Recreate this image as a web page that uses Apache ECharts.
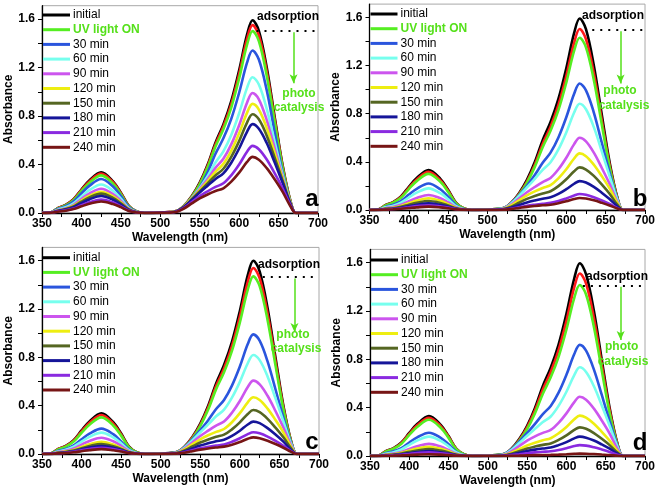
<!DOCTYPE html>
<html>
<head>
<meta charset="utf-8">
<script src="https://cdn.jsdelivr.net/npm/echarts@6/dist/echarts.min.js"></script>
<style>html,body{margin:0;padding:0;background:#fff;}#c{width:661px;height:493px;}</style>
</head>
<body>
<div id="c"></div>
<script>
// Wavelength grid (nm)
const wavelength = [350,360,365,370,380,390,400,410,425,440,450,460,470,480,500,520,530,540,550,560,570,580,590,600,610,617,625,635,645,655,665,672,680,700];

const seriesNames = ['initial','adsorption','UV light ON','30 min','60 min','90 min','120 min','150 min','180 min','210 min','240 min'];
const legendNames = ['initial','UV light ON','30 min','60 min','90 min','120 min','150 min','180 min','210 min','240 min'];
const panelLetters = ['a','b','c','d'];
const xLabelValues = [350,400,450,500,550,600,650,700];
const yLabelValues = [0,0.4,0.8,1.2,1.6];

// ---------- Panel a ----------
const aInitial = [0,.003,.017,.04,.067,.114,.194,.268,.335,.261,.168,.06,.013,0, .005, .016,.06,.14,.25,.398,.58,.731,.922,1.177,1.471,1.59,1.503,1.2,.795,.398,.1,0, 0,0];
const aAdsorption = [0,.003,.016,.039,.065,.111,.189,.26,.325,.254,.163,.059,.013,0, .005, .016,.059,.136,.243,.388,.566,.713,.899,1.147,1.434,1.55,1.465,1.17,.775,.388,.098,0, 0,0];
const aUV = [0,.003,.016,.037,.062,.105,.18,.248,.31,.242,.155,.056,.012,0, .005, .015,.057,.132,.236,.375,.548,.69,.87,1.11,1.388,1.5,1.418,1.133,.75,.375,.095,0, 0,0];
const a30 = [0,.003,.014,.034,.056,.095,.162,.224,.28,.218,.14,.05,.011,0, .003, .013,.051,.118,.21,.335,.489,.616,.777,.992,1.24,1.34,1.266,1.012,.67,.335,.084,0, 0,0];
const a60 = [0,.002,.012,.028,.047,.08,.136,.188,.235,.183,.118,.042,.009,0, .003, .014,.055,.123,.206,.304,.416,.509,.644,.823,1.032,1.12,1.06,.859,.59,.319,.087,0, 0,0];
const a90 = [0,.002,.01,.024,.04,.068,.116,.16,.2,.156,.1,.036,.008,0, .003, .014,.055,.121,.198,.28,.372,.447,.566,.724,.91,.99,.938,.766,.536,.301,.086,0, 0,0];
const a120 = [0,.002,.009,.021,.035,.06,.102,.14,.175,.137,.088,.032,.007,0, .002, .014,.054,.117,.189,.262,.34,.405,.513,.657,.826,.9,.853,.7,.496,.285,.083,0, 0,0];
const a150 = [0,.002,.008,.019,.032,.054,.093,.128,.16,.125,.08,.029,.006,0, .002, .013,.052,.113,.179,.244,.31,.365,.463,.593,.746,.815,.773,.638,.457,.269,.08,0, 0,0];
const a180 = [0,.001,.007,.017,.028,.048,.081,.112,.14,.109,.07,.025,.006,0, .002, .013,.05,.107,.168,.225,.281,.327,.415,.532,.67,.733,.695,.577,.418,.251,.076,0, 0,0];
const a210 = [0,.001,.006,.013,.022,.037,.064,.088,.11,.086,.055,.02,.004,0, .001, .011,.042,.09,.139,.179,.215,.245,.311,.4,.505,.554,.526,.441,.328,.204,.064,0, 0,0];
const a240 = [0,.001,.005,.011,.019,.032,.055,.076,.095,.074,.048,.017,.004,0, .001, .009,.037,.079,.12,.153,.181,.204,.259,.333,.421,.463,.44,.37,.278,.176,.056,0, 0,0];

// ---------- Panel b ----------
const bInitial = [0,.003,.017,.04,.066,.113,.193,.266,.332,.259,.166,.06,.013,0, .005, .016,.06,.14,.25,.398,.58,.731,.922,1.177,1.471,1.59,1.503,1.2,.795,.398,.1,0, 0,0];
const bAdsorption = [0,.003,.016,.038,.064,.108,.184,.254,.318,.248,.159,.057,.013,0, .005, .015,.057,.132,.236,.376,.549,.691,.872,1.112,1.39,1.503,1.42,1.135,.752,.376,.095,0, 0,0];
const bUV = [0,.003,.015,.036,.06,.102,.174,.24,.3,.234,.15,.054,.012,0, .005, .014,.054,.126,.225,.358,.522,.658,.829,1.058,1.323,1.43,1.351,1.08,.715,.358,.09,0, 0,0];
const b30 = [0,.002,.011,.026,.044,.075,.128,.176,.22,.172,.11,.04,.009,0, .003, .014,.055,.122,.202,.291,.392,.476,.602,.77,.966,1.05,.994,.809,.561,.31,.087,0, 0,0];
const b60 = [0,.002,.009,.022,.036,.061,.104,.144,.18,.14,.09,.032,.007,0, .003, .014,.053,.117,.187,.259,.334,.397,.503,.644,.81,.883,.837,.688,.489,.282,.083,0, 0,0];
const b90 = [0,.001,.006,.015,.025,.043,.073,.1,.125,.098,.063,.023,.005,0, .002, .011,.044,.095,.147,.191,.232,.266,.338,.434,.547,.6,.57,.476,.351,.217,.067,0, 0,0];
const b120 = [0,.001,.005,.012,.019,.033,.056,.078,.097,.076,.049,.017,.004,0, .001, .009,.038,.08,.122,.155,.183,.207,.263,.338,.428,.47,.447,.376,.282,.179,.056,0, 0,0];
const b150 = [0,.001,.004,.009,.015,.026,.044,.06,.075,.059,.038,.014,.003,0, .001, .007,.028,.06,.092,.117,.138,.156,.198,.255,.322,.354,.336,.283,.212,.135,.042,0, 0,0];
const b180 = [0,.001,.003,.007,.011,.019,.032,.044,.055,.043,.028,.01,.002,0, 0, .005,.019,.041,.062,.079,.094,.106,.134,.173,.218,.24,.228,.192,.144,.091,.029,0, 0,0];
const b210 = [0,0,.002,.005,.008,.014,.023,.032,.04,.031,.02,.007,.002,0, 0, .003,.011,.023,.035,.044,.052,.059,.074,.096,.121,.133,.126,.106,.08,.051,.016,0, 0,0];
const b240 = [0,0,.001,.003,.006,.01,.016,.022,.028,.022,.014,.005,.001,0, 0, .002,.008,.017,.026,.033,.039,.044,.056,.072,.091,.1,.095,.08,.06,.038,.012,0, 0,0];

// ---------- Panel c ----------
const cInitial = [0,.003,.017,.04,.067,.115,.195,.27,.337,.263,.169,.061,.013,0, .005, .016,.061,.141,.251,.4,.584,.736,.928,1.184,1.48,1.6,1.512,1.208,.8,.4,.101,0, 0,0];
const cAdsorption = [0,.003,.016,.039,.065,.11,.187,.258,.323,.252,.162,.058,.013,0, .005, .015,.059,.136,.242,.385,.562,.708,.893,1.14,1.425,1.54,1.455,1.163,.77,.385,.097,0, 0,0];
const cUV = [0,.003,.015,.036,.061,.103,.176,.242,.303,.236,.152,.055,.012,0, .005, .015,.056,.129,.231,.368,.537,.676,.853,1.088,1.36,1.47,1.389,1.11,.735,.368,.093,0, 0,0];
const c30 = [0,.002,.011,.025,.042,.071,.122,.168,.21,.164,.105,.038,.008,0, .003, .014,.055,.121,.198,.28,.372,.447,.566,.724,.91,.99,.938,.766,.536,.301,.086,0, 0,0];
const c60 = [0,.002,.009,.021,.035,.06,.103,.142,.177,.138,.089,.032,.007,0, .003, .013,.052,.113,.18,.245,.312,.367,.466,.597,.751,.82,.777,.642,.46,.27,.08,0, 0,0];
const c90 = [0,.001,.007,.016,.027,.046,.078,.108,.135,.105,.068,.024,.005,0, .002, .011,.045,.096,.149,.193,.235,.269,.342,.439,.554,.607,.576,.482,.356,.219,.068,0, 0,0];
const c120 = [0,.001,.005,.012,.02,.034,.058,.08,.1,.078,.05,.018,.004,0, .001, .009,.038,.08,.122,.155,.183,.207,.263,.338,.428,.47,.447,.376,.282,.179,.056,0, 0,0];
const c150 = [0,.001,.004,.01,.017,.028,.048,.066,.083,.065,.042,.015,.003,0, .001, .007,.029,.062,.095,.12,.142,.16,.204,.262,.331,.364,.346,.291,.218,.138,.044,0, 0,0];
const c180 = [0,.001,.003,.008,.013,.022,.038,.053,.066,.051,.033,.012,.003,0, 0, .005,.021,.046,.07,.088,.105,.118,.15,.193,.244,.268,.255,.214,.161,.102,.032,0, 0,0];
const c210 = [0,.001,.003,.006,.01,.018,.03,.042,.052,.041,.026,.009,.002,0, 0, .004,.014,.031,.047,.059,.07,.079,.101,.13,.164,.18,.171,.144,.108,.068,.022,0, 0,0];
const c240 = [0,0,.002,.005,.008,.014,.023,.032,.04,.031,.02,.007,.002,0, 0, .003,.011,.023,.036,.046,.054,.061,.077,.099,.126,.138,.131,.11,.083,.052,.017,0, 0,0];

// ---------- Panel d ----------
const dInitial = [0,.003,.017,.04,.066,.112,.191,.264,.33,.257,.165,.059,.013,0, .005, .016,.06,.14,.25,.398,.58,.731,.922,1.177,1.471,1.595,1.503,1.2,.795,.398,.1,0, 0,0];
const dAdsorption = [0,.003,.016,.038,.063,.108,.184,.254,.317,.247,.159,.057,.013,0, .005, .015,.057,.133,.237,.378,.551,.695,.876,1.117,1.397,1.51,1.427,1.14,.755,.378,.095,0, 0,0];
const dUV = [0,.003,.015,.036,.06,.102,.174,.24,.3,.234,.15,.054,.012,0, .005, .014,.054,.125,.222,.354,.516,.651,.821,1.047,1.309,1.415,1.337,1.068,.708,.354,.089,0, 0,0];
const d30 = [0,.002,.01,.023,.039,.066,.112,.154,.193,.151,.097,.035,.008,0, .003, .014,.054,.118,.191,.266,.347,.414,.524,.672,.844,.92,.872,.715,.505,.289,.084,0, 0,0];
const d60 = [0,.002,.008,.019,.032,.054,.093,.128,.16,.125,.08,.029,.006,0, .002, .013,.05,.107,.168,.225,.281,.327,.415,.532,.67,.734,.695,.577,.418,.251,.076,0, 0,0];
const d90 = [0,.001,.005,.012,.02,.034,.058,.08,.1,.078,.05,.018,.004,0, .001, .01,.039,.083,.127,.162,.191,.216,.274,.353,.446,.49,.466,.392,.294,.186,.059,0, 0,0];
const d120 = [0,.001,.004,.009,.015,.026,.045,.062,.077,.06,.039,.014,.003,0, .001, .007,.027,.057,.087,.11,.13,.147,.187,.24,.304,.334,.317,.267,.2,.127,.04,0, 0,0];
const d150 = [0,.001,.003,.007,.012,.02,.034,.046,.058,.045,.029,.01,.002,0, 0, .005,.019,.04,.062,.078,.092,.104,.133,.171,.216,.237,.225,.19,.142,.09,.028,0, 0,0];
const d180 = [0,0,.002,.005,.008,.014,.023,.032,.04,.031,.02,.007,.002,0, 0, .003,.013,.027,.042,.053,.062,.07,.09,.115,.146,.16,.152,.128,.096,.061,.019,0, 0,0];
const d210 = [0,0,.002,.004,.006,.01,.017,.024,.03,.023,.015,.005,.001,0, 0, .002,.007,.015,.023,.03,.035,.04,.05,.065,.082,.09,.086,.072,.054,.034,.011,0, 0,0];
const d240 = [0,0,.001,.002,.003,.005,.008,.011,.014,.011,.007,.003,.001,0, 0, 0,.002,.003,.005,.007,.008,.009,.011,.014,.018,.02,.019,.016,.012,.008,.002,0, 0,0];

const panels = [
  [aInitial,aAdsorption,aUV,a30,a60,a90,a120,a150,a180,a210,a240],
  [bInitial,bAdsorption,bUV,b30,b60,b90,b120,b150,b180,b210,b240],
  [cInitial,cAdsorption,cUV,c30,c60,c90,c120,c150,c180,c210,c240],
  [dInitial,dAdsorption,dUV,d30,d60,d90,d120,d150,d180,d210,d240]
];

// Annotation levels per panel (absorbance / nm)
const adsorptionLevel = [1.50, 1.495, 1.463, 1.41];
const dottedStart = [622, 633, 629, 621];
const arrowEnd = [1.07, 1.05, 1.01, 0.96];

// ---------- styling ----------
const colors = ['#000000','#ff1a1a','#55ee22','#2a55dd','#77ffee','#cc55ee','#eeee11','#556622','#151599','#8a2ae0','#771515'];
const FONT = '"Liberation Sans", Arial, sans-serif';
const GREEN = '#55e01a';

const grids = [
  {left:42,  right:343, top:5.7,   height:207.3},
  {left:369.5, right:16, top:4.1,  height:205.9},
  {left:42,  right:342, top:247.4, height:206.6},
  {left:370, right:16, top:249.4,  height:206.6}
];
const legendTops = [9, 8, 251.7, 254];

const option = {
  animation:false,
  backgroundColor:'#fff',
  grid: grids.map(g => Object.assign({show:true, borderColor:'#a8a8a8', borderWidth:1, containLabel:false}, g)),
  xAxis: grids.map((g,i) => ({
    type:'value', gridIndex:i, min:350, max:700, interval:50,
    name:'Wavelength (nm)', nameLocation:'middle', nameGap:19,
    nameTextStyle:{fontFamily:FONT, fontWeight:'bold', fontSize:12, color:'#000', verticalAlign:'top'},
    axisLine:{show:true, onZero:false, lineStyle:{color:'#000', width:1.3}},
    axisTick:{show:true, inside:false, length:4, lineStyle:{color:'#000', width:1},
      customValues:[350,375,400,425,450,475,500,525,550,575,600,625,650,675,700]},
    axisLabel:{fontFamily:FONT, fontWeight:'bold', fontSize:12, color:'#000', margin:5,
      customValues:xLabelValues, showMinLabel:true, showMaxLabel:true},
    splitLine:{show:false}
  })),
  yAxis: grids.map((g,i) => ({
    type:'value', gridIndex:i, min:0, max:1.71,
    name:'Absorbance', nameLocation:'middle', nameGap:25, nameRotate:90,
    nameTextStyle:{fontFamily:FONT, fontWeight:'bold', fontSize:12, color:'#000'},
    axisLine:{show:true, onZero:false, lineStyle:{color:'#000', width:1.3}},
    axisTick:{show:true, inside:false, length:4, lineStyle:{color:'#000', width:1},
      customValues:[0,0.2,0.4,0.6,0.8,1.0,1.2,1.4,1.6]},
    axisLabel:{fontFamily:FONT, fontWeight:'bold', fontSize:12, color:'#000', margin:7,
      customValues:yLabelValues, formatter:v => v.toFixed(1)},
    splitLine:{show:false}
  })),
  legend: grids.map((g,i) => ({
    orient:'vertical',
    left: g.left + 1,
    top: legendTops[i],
    padding:0,
    itemWidth:27, itemHeight:3, itemGap:2.7, icon:'rect',
    textStyle:{fontFamily:FONT, fontSize:12, color:'#000', padding:[0,0,0,-2]},
    data: legendNames.map(n => n === 'UV light ON'
      ? {name:n, textStyle:{color:GREEN, fontWeight:'bold'}}
      : {name:n}),
    selectedMode:false
  })),
  series: [],
  graphic: []
};

panels.forEach((panel, p) => {
  panel.forEach((vals, s) => {
    const ser = {
      type:'line', name:seriesNames[s], xAxisIndex:p, yAxisIndex:p,
      data: wavelength.map((w,k) => [w, vals[k]]),
      showSymbol:false, symbol:'none', smooth:0.35,
      color:colors[s],
      lineStyle:{width:2.6, color:colors[s]},
      emphasis:{disabled:true}, silent:true, z: 2 + s * 0.01
    };
    if (s === 2) {
      ser.markLine = {
        silent:true, animation:false, label:{show:false},
        data: [
          [{coord:[dottedStart[p], adsorptionLevel[p]], symbol:'none', lineStyle:{color:'#000', type:[2,6], width:2}},
           {coord:[699, adsorptionLevel[p]], symbol:'none'}],
          [{coord:[669, adsorptionLevel[p]-0.01], symbol:'none', lineStyle:{color:GREEN, type:'solid', width:1.5}},
           {coord:[669, arrowEnd[p]], symbol:'arrow', symbolSize:[6,9]}]
        ]
      };
    }
    option.series.push(ser);
  });
});

// Text annotations (pixel placement of labels only)
const annot = [
  {ads:[288,16.7], photo:[299,94], cat:[299,108], letter:[312,199]},
  {ads:[613,16],   photo:[620,91], cat:[624,106], letter:[640,199]},
  {ads:[289,264.3],photo:[293,335],cat:[296,349], letter:[312,442]},
  {ads:[617,276.7],photo:[621.7,346.7],cat:[623,361.7], letter:[640,443]}
];
annot.forEach((a, p) => {
  option.graphic.push(
    {type:'text', z:100, x:a.ads[0], y:a.ads[1], style:{text:'adsorption', fill:'#000', font:'bold 12px ' + FONT, textAlign:'center', textVerticalAlign:'middle'}},
    {type:'text', z:100, x:a.photo[0], y:a.photo[1], style:{text:'photo', fill:GREEN, font:'bold 12px ' + FONT, textAlign:'center', textVerticalAlign:'middle'}},
    {type:'text', z:100, x:a.cat[0], y:a.cat[1], style:{text:'catalysis', fill:GREEN, font:'bold 12px ' + FONT, textAlign:'center', textVerticalAlign:'middle'}},
    {type:'text', z:100, x:a.letter[0], y:a.letter[1], style:{text:panelLetters[p], fill:'#000', font:'bold 24px ' + FONT, textAlign:'center', textVerticalAlign:'middle'}}
  );
});

const chart = echarts.init(document.getElementById('c'), null, {renderer:'canvas'});
chart.setOption(option);
</script>
</body>
</html>
